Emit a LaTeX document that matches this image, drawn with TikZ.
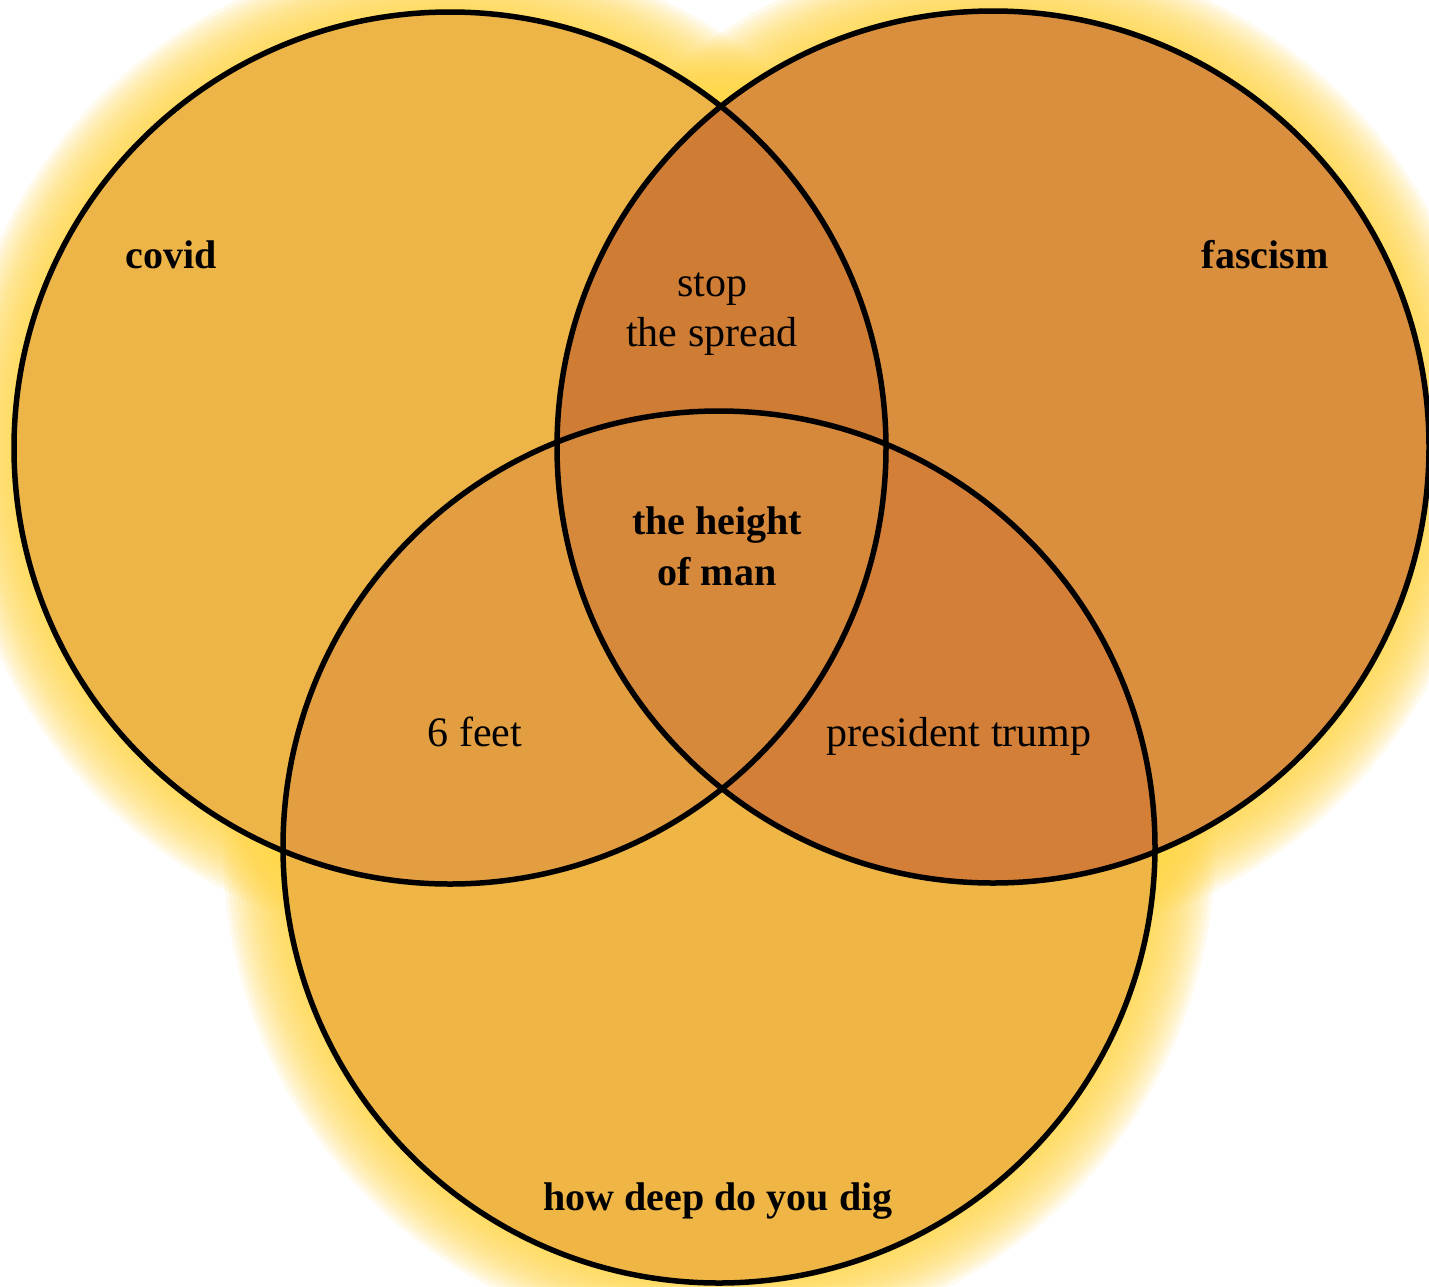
\documentclass[tikz,border=0pt]{standalone}
\usepackage{fontspec}
\setmainfont{Liberation Serif}
\usetikzlibrary{positioning}
\definecolor{glow}{HTML}{FFD84A}
\definecolor{covidfill}{HTML}{EDB448}
\definecolor{fascfill}{HTML}{DA8F3E}
\definecolor{digfill}{HTML}{EFB645}
\definecolor{cvfa}{HTML}{CF7C35}
\definecolor{cvdg}{HTML}{E39E42}
\definecolor{fadg}{HTML}{D37F38}
\definecolor{allfill}{HTML}{D6883B}

\begin{document}
\begin{tikzpicture}[
  x=1pt, y=-1pt,
  ring/.style={draw=black,line width=5.5pt},
  lbl/.style={font=\fontsize{42}{50}\selectfont,align=center,inner sep=0pt},
  head/.style={font=\fontsize{40}{51}\selectfont\bfseries,align=center,inner sep=0pt},
]
\useasboundingbox[fill=white] (0,0) rectangle (1429,1286);
\def\R{436}
\coordinate (cv) at (450,448);
\coordinate (fa) at (993,447);
\coordinate (dg) at (719,847);

% ===== glow =====
\foreach \d in {60,56,...,4}{
  \foreach \c in {cv,fa,dg}{ \fill[glow,opacity=0.11] (\c) circle[radius=\R+\d]; }
}

% ===== fills =====
\fill[covidfill] (cv) circle[radius=\R];
\fill[fascfill] (fa) circle[radius=\R];
\fill[digfill] (dg) circle[radius=\R];
\begin{scope}
  \clip (cv) circle[radius=\R];
  \fill[cvdg] (dg) circle[radius=\R];
  \fill[cvfa] (fa) circle[radius=\R];
\end{scope}
\begin{scope}
  \clip (fa) circle[radius=\R];
  \fill[fadg] (dg) circle[radius=\R];
\end{scope}
\begin{scope}
  \clip (cv) circle[radius=\R];
  \clip (fa) circle[radius=\R];
  \fill[allfill] (dg) circle[radius=\R];
\end{scope}

% ===== rings =====
\foreach \c in {cv,fa,dg}{ \draw[ring] (\c) circle[radius=\R]; }

% ===== labels =====
\node[head,anchor=base] (covid) at (171,268) {covid};
\node[head,anchor=base] (fascism) at (1265,268) {fascism};
\node[head,anchor=base] (dig) at (718,1210) {how deep do you dig};
\node[lbl] (spread) at (712,314) {stop\\the spread};
\node[head] (height) at (717,546) {the height\\of man};
\node[lbl,anchor=base] (feet) at (475,746) {6 feet};
\node[lbl,anchor=base] (trump) at (959,746) {president trump};
\end{tikzpicture}
\end{document}
